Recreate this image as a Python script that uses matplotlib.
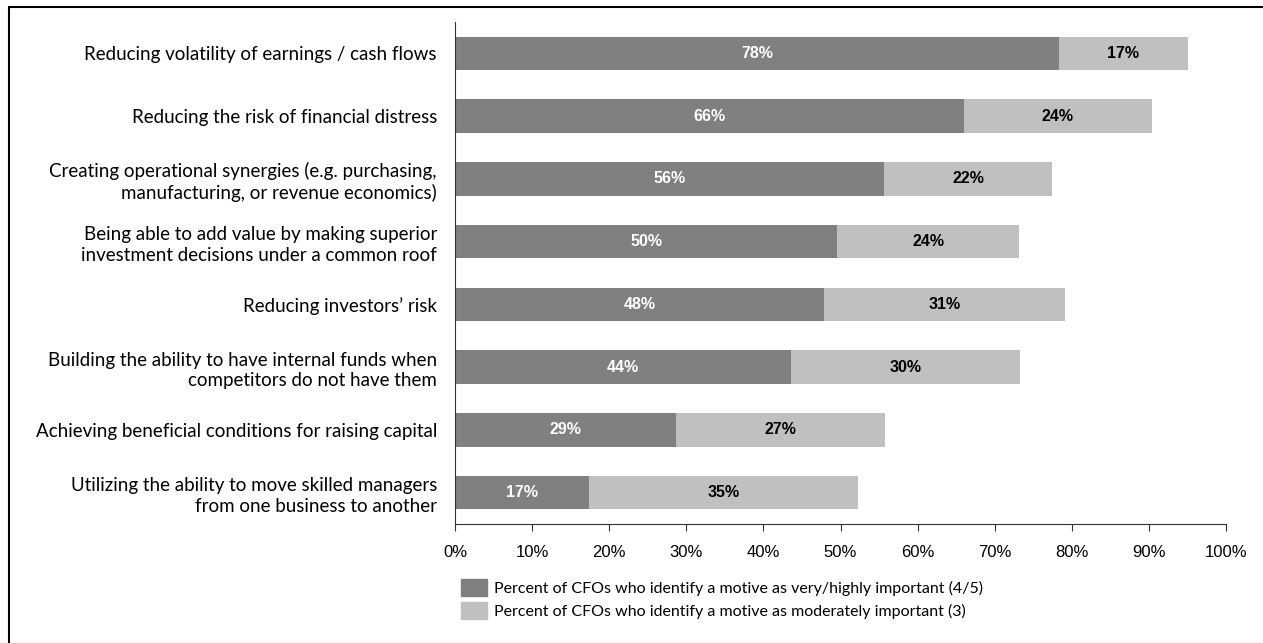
import matplotlib.pyplot as plt
from matplotlib.patches import Patch, Rectangle
from matplotlib.ticker import PercentFormatter

# Data
motives = [
    "Reducing volatility of earnings / cash flows",
    "Reducing the risk of financial distress",
    "Creating operational synergies (e.g. purchasing,\nmanufacturing, or revenue economics)",
    "Being able to add value by making superior\ninvestment decisions under a common roof",
    "Reducing investors\u2019 risk",
    "Building the ability to have internal funds when\ncompetitors do not have them",
    "Achieving beneficial conditions for raising capital",
    "Utilizing the ability to move skilled managers\nfrom one business to another",
]
high = [78.3, 66.0, 55.7, 49.6, 47.8, 43.6, 28.6, 17.4]
moderate = [16.8, 24.4, 21.7, 23.6, 31.3, 29.7, 27.2, 34.9]
high_labels = ["78%", "66%", "56%", "50%", "48%", "44%", "29%", "17%"]
moderate_labels = ["17%", "24%", "22%", "24%", "31%", "30%", "27%", "35%"]
legend_labels = [
    "Percent of CFOs who identify a motive as very/highly important (4/5)",
    "Percent of CFOs who identify a motive as moderately important (3)",
]

DARK = "#808080"
LIGHT = "#c0c0c0"
cat_font = "Lato"
num_font = "Liberation Sans"

fig = plt.figure(figsize=(12.63, 6.43), dpi=100)
ax = fig.add_axes([455 / 1263, 1 - 524 / 643, (1226 - 455) / 1263, (524 - 22) / 643])

# outer frame
fig.patches.append(Rectangle((9 / 1263, -0.05), 1.1, 1 - 7 / 643 + 0.05,
                             transform=fig.transFigure, fill=False,
                             edgecolor="black", linewidth=1.5))

y = list(range(len(motives)))
b1 = ax.barh(y, high, height=0.53, color=DARK)
b2 = ax.barh(y, moderate, left=high, height=0.53, color=LIGHT)

for rect, lab in zip(b1, high_labels):
    ax.text(rect.get_x() + rect.get_width() / 2, rect.get_y() + rect.get_height() / 2,
            lab, ha="center", va="center", color="white", fontsize=11.5,
            fontweight="bold", family=num_font)
for rect, lab in zip(b2, moderate_labels):
    ax.text(rect.get_x() + rect.get_width() / 2, rect.get_y() + rect.get_height() / 2,
            lab, ha="center", va="center", color="black", fontsize=11.5,
            fontweight="bold", family=num_font)

ax.set_xlim(0, 100)
ax.set_ylim(len(motives) - 0.5, -0.5)
ax.set_xticks(range(0, 101, 10))
ax.xaxis.set_major_formatter(PercentFormatter(decimals=0))
ax.set_yticks(y)
ax.set_yticklabels(motives, family=cat_font, fontsize=13.5, linespacing=1.25)
ax.tick_params(axis="y", length=0, pad=13)
ax.tick_params(axis="x", length=5, direction="out", color="#333333", pad=10)
for t in ax.get_xticklabels():
    t.set_family(num_font)
    t.set_fontsize(12)

for s in ["top", "right"]:
    ax.spines[s].set_visible(False)
for s in ["left", "bottom"]:
    ax.spines[s].set_color("#333333")

handles = [Patch(color=DARK), Patch(color=LIGHT)]
fig.legend(handles, legend_labels, loc="upper left",
           bbox_to_anchor=(447 / 1263, 1 - 565 / 643), frameon=False,
           prop={"family": cat_font, "size": 11.5}, handlelength=1.6,
           handleheight=1.2, handletextpad=0.45, labelspacing=0.4)

plt.savefig("out.png", dpi=100)
